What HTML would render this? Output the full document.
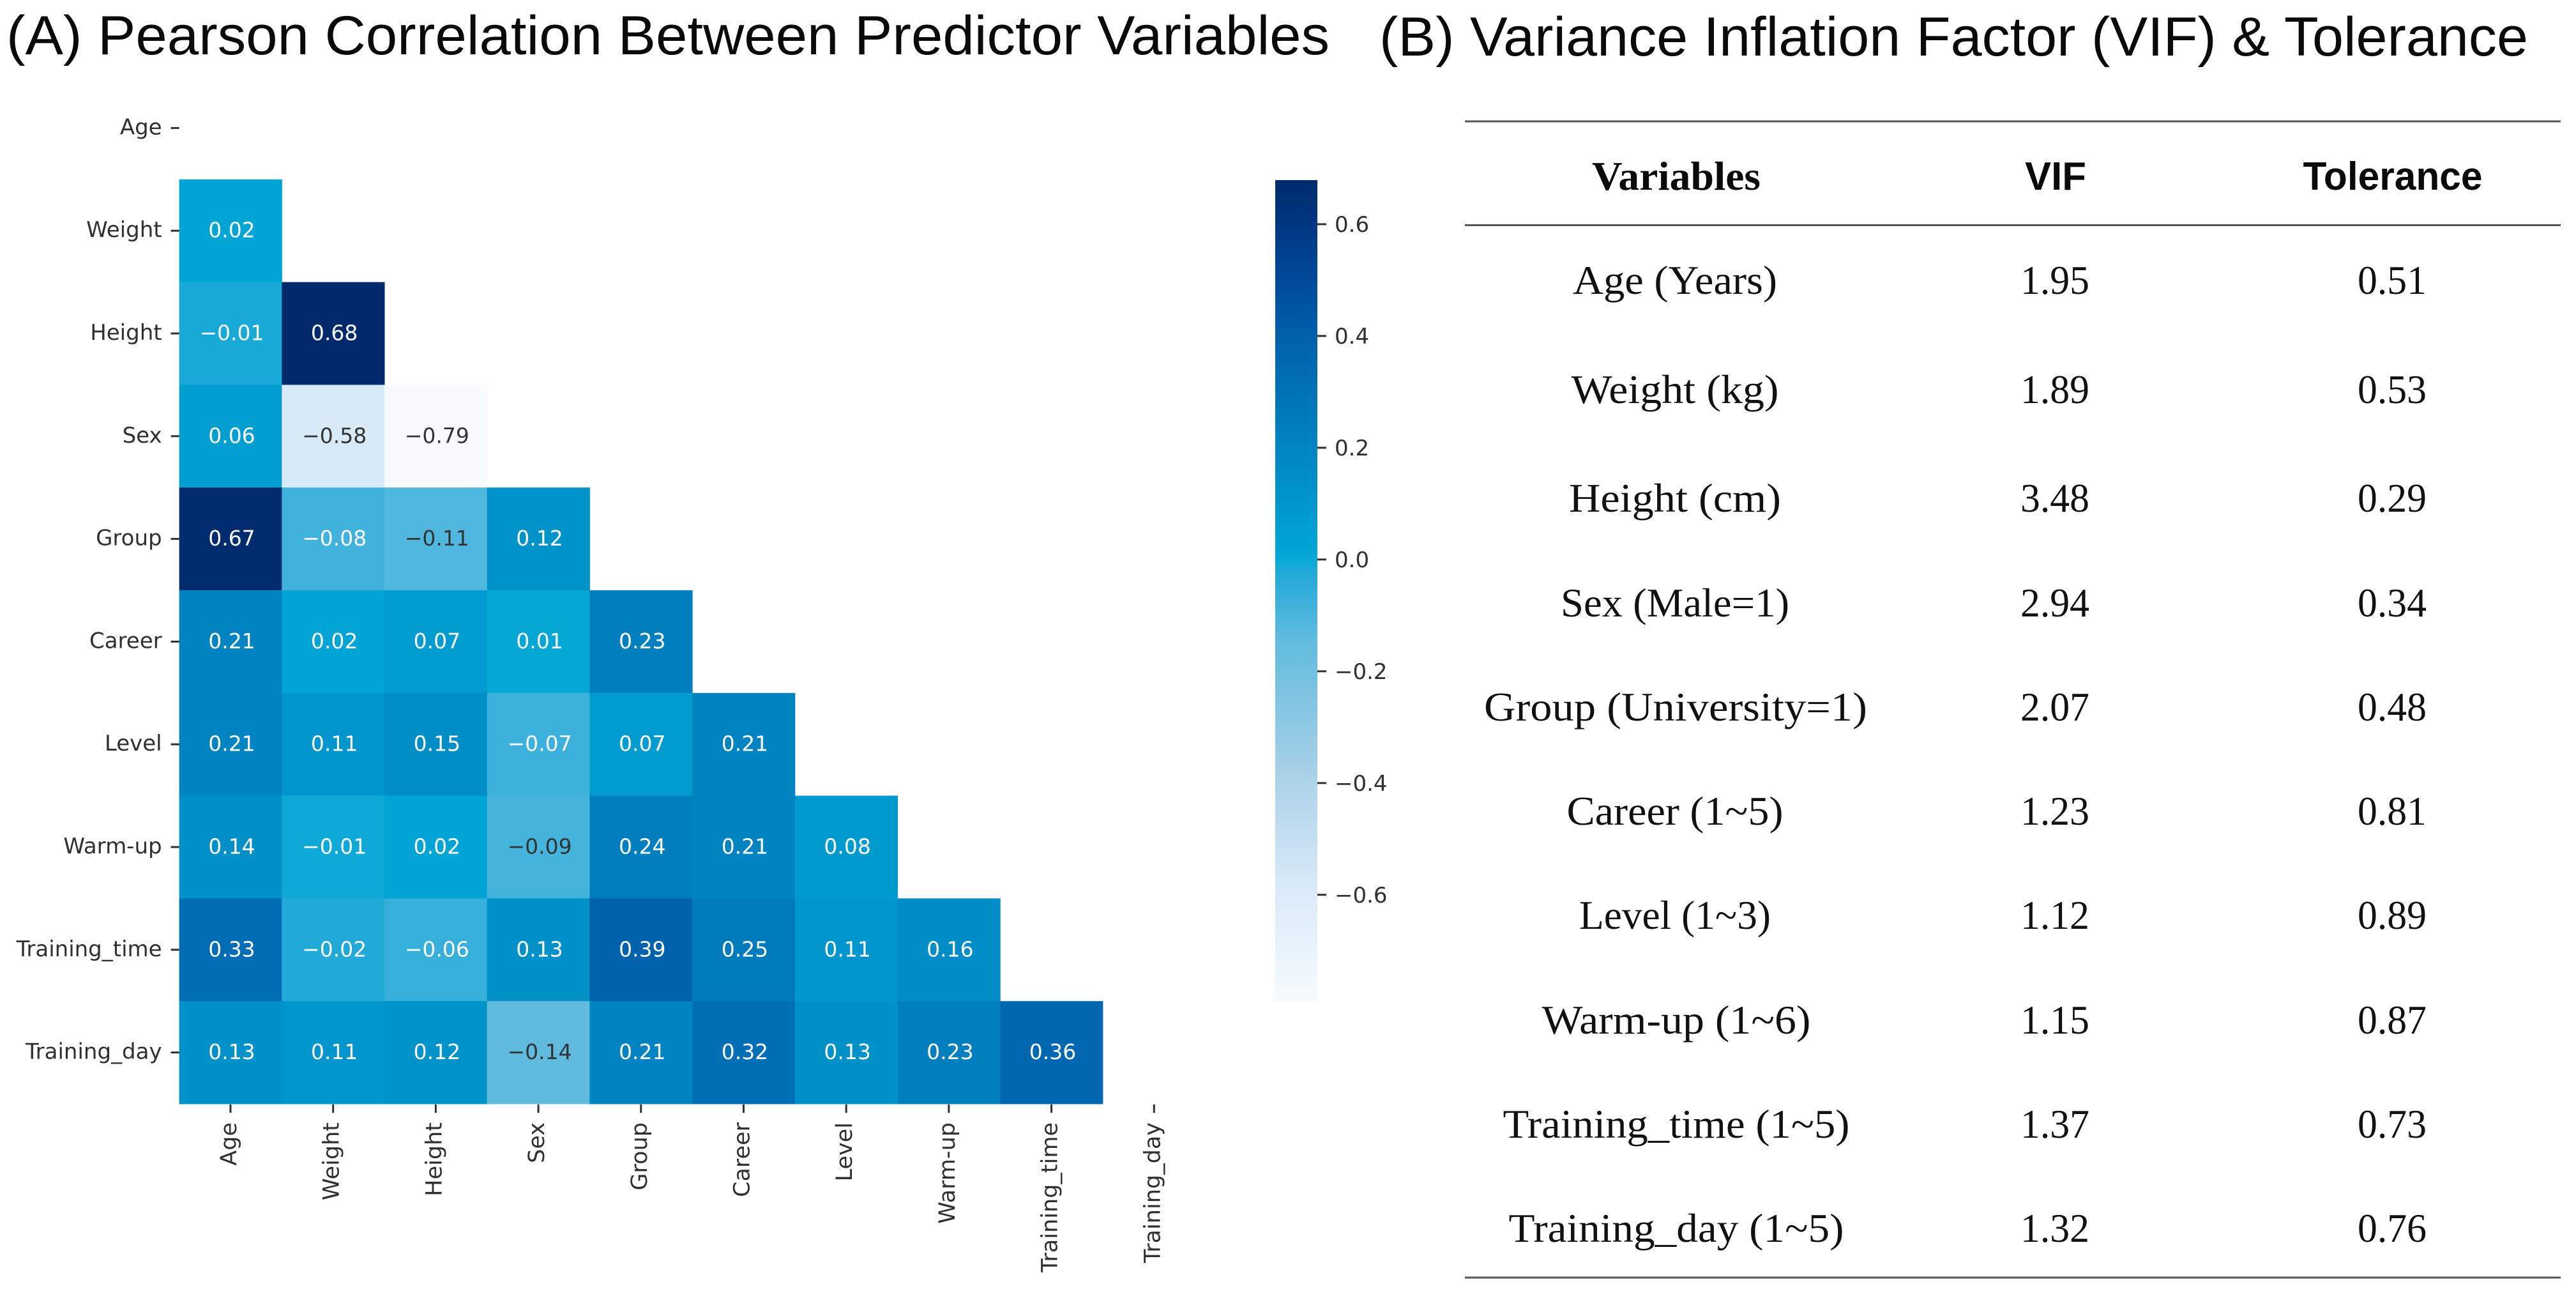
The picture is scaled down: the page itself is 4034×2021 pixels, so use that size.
<!DOCTYPE html>
<html lang="en">
<head>
<meta charset="utf-8">
<title>Pearson Correlation and VIF</title>
<style>
html,body{margin:0;padding:0;background:#fff;width:4034px;height:2021px;overflow:hidden}
svg{display:block}
.title{font-family:"Liberation Sans",sans-serif;font-size:86px;fill:#0a0a0a}
.serif{font-family:"Liberation Serif",serif;font-size:63px;fill:#111;text-anchor:middle}
.hs{font-family:"Liberation Serif",serif;font-size:63px;font-weight:bold;fill:#0a0a0a;text-anchor:middle}
.hb{font-family:"Liberation Sans",sans-serif;font-size:62px;font-weight:bold;fill:#0a0a0a;text-anchor:middle}
.tick{font-family:"DejaVu Sans",sans-serif;font-size:34px;fill:#303030}
.xtick{font-family:"DejaVu Sans",sans-serif;font-size:35px;fill:#303030}
.cell{font-family:"DejaVu Sans",sans-serif;font-size:33px;text-anchor:middle;dominant-baseline:central}
</style>
</head>
<body>
<svg id="figure" xmlns="http://www.w3.org/2000/svg" width="4034" height="2021" viewBox="0 0 4034 2021">
  <rect width="4034" height="2021" fill="#fff"/>
  <text class="title" x="10" y="85" textLength="2072" lengthAdjust="spacingAndGlyphs">(A) Pearson Correlation Between Predictor Variables</text>
  <text class="title" x="2160" y="87" textLength="1799" lengthAdjust="spacingAndGlyphs">(B) Variance Inflation Factor (VIF) &amp; Tolerance</text>
  <g id="heatmap"></g>
  <g id="colorbar"></g>

  <g>
    <line x1="2294" x2="4010" y1="190" y2="190" stroke="#555" stroke-width="3"/>
    <line x1="2294" x2="4010" y1="352.5" y2="352.5" stroke="#555" stroke-width="3"/>
    <line x1="2294" x2="4010" y1="2000" y2="2000" stroke="#555" stroke-width="3"/>
    <text class="hs" x="2625" y="297" textLength="264" lengthAdjust="spacingAndGlyphs">Variables</text>
    <text class="hb" x="3219" y="297" textLength="96" lengthAdjust="spacingAndGlyphs">VIF</text>
    <text class="hb" x="3747" y="297" textLength="281" lengthAdjust="spacingAndGlyphs">Tolerance</text>

    <text class="serif" x="2623" y="460" textLength="320" lengthAdjust="spacingAndGlyphs">Age (Years)</text>
    <text class="serif" x="3218" y="460" textLength="108" lengthAdjust="spacingAndGlyphs">1.95</text>
    <text class="serif" x="3746" y="460" textLength="108" lengthAdjust="spacingAndGlyphs">0.51</text>

    <text class="serif" x="2623" y="631" textLength="325" lengthAdjust="spacingAndGlyphs">Weight (kg)</text>
    <text class="serif" x="3218" y="631" textLength="108" lengthAdjust="spacingAndGlyphs">1.89</text>
    <text class="serif" x="3746" y="631" textLength="108" lengthAdjust="spacingAndGlyphs">0.53</text>

    <text class="serif" x="2623" y="801" textLength="332" lengthAdjust="spacingAndGlyphs">Height (cm)</text>
    <text class="serif" x="3218" y="801" textLength="108" lengthAdjust="spacingAndGlyphs">3.48</text>
    <text class="serif" x="3746" y="801" textLength="108" lengthAdjust="spacingAndGlyphs">0.29</text>

    <text class="serif" x="2623" y="965" textLength="358" lengthAdjust="spacingAndGlyphs">Sex (Male=1)</text>
    <text class="serif" x="3218" y="965" textLength="108" lengthAdjust="spacingAndGlyphs">2.94</text>
    <text class="serif" x="3746" y="965" textLength="108" lengthAdjust="spacingAndGlyphs">0.34</text>

    <text class="serif" x="2624" y="1128" textLength="600" lengthAdjust="spacingAndGlyphs">Group (University=1)</text>
    <text class="serif" x="3218" y="1128" textLength="108" lengthAdjust="spacingAndGlyphs">2.07</text>
    <text class="serif" x="3746" y="1128" textLength="108" lengthAdjust="spacingAndGlyphs">0.48</text>

    <text class="serif" x="2623" y="1291" textLength="339" lengthAdjust="spacingAndGlyphs">Career (1~5)</text>
    <text class="serif" x="3218" y="1291" textLength="108" lengthAdjust="spacingAndGlyphs">1.23</text>
    <text class="serif" x="3746" y="1291" textLength="108" lengthAdjust="spacingAndGlyphs">0.81</text>

    <text class="serif" x="2623" y="1454" textLength="300" lengthAdjust="spacingAndGlyphs">Level (1~3)</text>
    <text class="serif" x="3218" y="1454" textLength="108" lengthAdjust="spacingAndGlyphs">1.12</text>
    <text class="serif" x="3746" y="1454" textLength="108" lengthAdjust="spacingAndGlyphs">0.89</text>

    <text class="serif" x="2625" y="1618" textLength="421" lengthAdjust="spacingAndGlyphs">Warm-up (1~6)</text>
    <text class="serif" x="3218" y="1618" textLength="108" lengthAdjust="spacingAndGlyphs">1.15</text>
    <text class="serif" x="3746" y="1618" textLength="108" lengthAdjust="spacingAndGlyphs">0.87</text>

    <text class="serif" x="2625" y="1781" textLength="543" lengthAdjust="spacingAndGlyphs">Training_time (1~5)</text>
    <text class="serif" x="3218" y="1781" textLength="108" lengthAdjust="spacingAndGlyphs">1.37</text>
    <text class="serif" x="3746" y="1781" textLength="108" lengthAdjust="spacingAndGlyphs">0.73</text>

    <text class="serif" x="2625" y="1944" textLength="525" lengthAdjust="spacingAndGlyphs">Training_day (1~5)</text>
    <text class="serif" x="3218" y="1944" textLength="108" lengthAdjust="spacingAndGlyphs">1.32</text>
    <text class="serif" x="3746" y="1944" textLength="108" lengthAdjust="spacingAndGlyphs">0.76</text>
  </g>
</svg>
<script>
const variables = ["Age","Weight","Height","Sex","Group","Career","Level","Warm-up","Training_time","Training_day"];
const correlations = [
  [],
  [0.02],
  [-0.014,0.68],
  [0.06,-0.58,-0.79],
  [0.67,-0.08,-0.11,0.12],
  [0.21,0.02,0.07,0.01,0.23],
  [0.21,0.11,0.15,-0.07,0.07,0.21],
  [0.14,-0.006,0.02,-0.09,0.24,0.21,0.08],
  [0.33,-0.02,-0.06,0.13,0.39,0.25,0.11,0.16],
  [0.13,0.11,0.12,-0.14,0.21,0.32,0.13,0.23,0.36]
];
const colorbarTicks = [0.6,0.4,0.2,0.0,-0.2,-0.4,-0.6];
const colorValues = [-0.79,-0.58,-0.4,-0.2,-0.14,-0.08,-0.02,-0.006,0.02,0.2,0.4,0.55,0.68];
const colorStops = ["#f7fbff","#d8e9f8","#aed3ea","#72c0df","#60bbdf","#40b2dc","#21a9d8","#0ea9d6","#00a5d5","#0085c2","#0060ac","#004090","#002a6c"];

const NS = "http://www.w3.org/2000/svg";
const plotLeft = 280.6, plotTop = 120, cellW = 160.7, cellH = 160.8;
const cbLeft = 1997, cbRight = 2063, cbTop = 282, cbBottom = 1568;
const cbMax = 0.68, cbMin = -0.79;
const xScale = i => plotLeft + i * cellW;
const yScale = i => plotTop + i * cellH;
const cbScale = v => cbTop + (cbMax - v) / (cbMax - cbMin) * (cbBottom - cbTop);

function hexToRgb(h){return [1,3,5].map(k=>parseInt(h.substr(k,2),16));}
function colorFor(v){
  if (v <= colorValues[0]) return colorStops[0];
  for (let k = 1; k < colorValues.length; k++) {
    if (v <= colorValues[k]) {
      const t = (v - colorValues[k-1]) / (colorValues[k] - colorValues[k-1]);
      const a = hexToRgb(colorStops[k-1]), b = hexToRgb(colorStops[k]);
      return "rgb(" + a.map((c,n)=>Math.round(c + (b[n]-c)*t)).join(",") + ")";
    }
  }
  return colorStops[colorStops.length-1];
}
function make(tag, parent, attrs, text){
  const el = document.createElementNS(NS, tag);
  for (const k in attrs) el.setAttribute(k, attrs[k]);
  if (text !== undefined) el.textContent = text;
  parent.appendChild(el);
  return el;
}
const fmt = v => (v < 0 ? "\u2212" : "") + Math.abs(v).toFixed(2);
const heatmap = document.getElementById("heatmap");
const colorbar = document.getElementById("colorbar");

correlations.forEach((row, r) => {
  row.forEach((v, c) => {
    const rect = make("rect", heatmap, {x:xScale(c), y:yScale(r), width:cellW+0.5, height:cellH+0.5, fill:colorFor(v)});
    
    
  });
});
correlations.forEach((row, r) => {
  row.forEach((v, c) => {
    const label = make("text", heatmap, {class:"cell", x:xScale(c)+cellW/2+2, y:yScale(r)+cellH/2-1, fill: v <= -0.09 ? "#333333" : "#ffffff"}, fmt(v));
    
    
  });
});
variables.forEach((name, i) => {
  const yc = yScale(i) + cellH/2, xc = xScale(i) + cellW/2;
  const yt = make("line", heatmap, {x1:plotLeft-13, x2:plotLeft, y1:yc, y2:yc, stroke:"#303030", "stroke-width":3});
  
  
  const yl = make("text", heatmap, {class:"tick", x:plotLeft-27, y:yc-1, "text-anchor":"end", "dominant-baseline":"central"}, name);
  
  
  const xt = make("line", heatmap, {x1:xc, x2:xc, y1:1729, y2:1742, stroke:"#303030", "stroke-width":3});
  
  
  const xl = make("text", heatmap, {class:"xtick", transform:"translate("+(xc-2)+",1757) rotate(-90)", x:0, y:0, "text-anchor":"end", "dominant-baseline":"central"}, name);
  
  
});

const defs = make("defs", colorbar, {});
const grad = make("linearGradient", defs, {id:"cbGrad", x1:0, x2:0, y1:1, y2:0});
colorValues.forEach((v, k) => {
  make("stop", grad, {offset:(v-cbMin)/(cbMax-cbMin), "stop-color":colorStops[k]});
});
const cbRect = make("rect", colorbar, {x:cbLeft, y:cbTop, width:cbRight-cbLeft, height:cbBottom-cbTop, fill:"url(#cbGrad)"});


colorbarTicks.forEach(v => {
  const y = cbScale(v);
  const t = make("line", colorbar, {x1:cbRight, x2:cbRight+14, y1:y-1, y2:y-1, stroke:"#303030", "stroke-width":3});
  
  
  const l = make("text", colorbar, {class:"tick", x:2090, y:y, "dominant-baseline":"central"}, (v < 0 ? "\u2212" : "") + Math.abs(v).toFixed(1));
  
  
});
</script>
</body>
</html>
